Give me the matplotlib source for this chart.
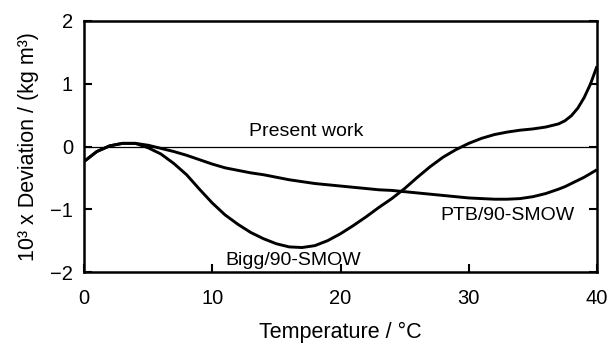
import matplotlib
matplotlib.use("Agg")
import matplotlib.pyplot as plt

temperature = [0, 1, 2, 3, 4, 5, 6, 7, 8, 9,
               10, 11, 12, 13, 14, 15, 16, 17, 18, 19,
               20, 21, 22, 23, 24, 25, 26, 27, 28, 29,
               30, 31, 32, 33, 34, 35, 36, 37, 37.5, 38, 38.5, 39, 39.5, 40]
bigg = [-0.24, -0.08, 0.01, 0.05, 0.05, -0.02, -0.12, -0.27, -0.45, -0.68,
        -0.90, -1.09, -1.24, -1.37, -1.47, -1.55, -1.60, -1.61, -1.58, -1.50,
        -1.39, -1.26, -1.12, -0.97, -0.83, -0.67, -0.49, -0.32, -0.17, -0.05,
        0.05, 0.13, 0.19, 0.23, 0.26, 0.28, 0.31, 0.36, 0.41, 0.49, 0.61, 0.78, 1.00, 1.28]
ptb = [-0.24, -0.08, 0.01, 0.05, 0.05, 0.02, -0.03, -0.08, -0.14, -0.21,
       -0.28, -0.34, -0.38, -0.42, -0.45, -0.49, -0.53, -0.56, -0.59, -0.61,
       -0.63, -0.65, -0.67, -0.69, -0.70, -0.72, -0.74, -0.76, -0.78, -0.80,
       -0.82, -0.83, -0.84, -0.84, -0.83, -0.80, -0.75, -0.68, -0.64, -0.59, -0.54, -0.49, -0.43, -0.37]
present_work = 0.0
x_ticks = [0, 10, 20, 30, 40]
y_ticks = [-2, -1, 0, 1, 2]

plt.rcParams['font.family'] = ['Liberation Sans', 'DejaVu Sans']

fig = plt.figure(figsize=(6.09, 3.47), dpi=100)
ax = fig.add_axes([84/609, 1-272/347, (597-84)/609, (272-21)/347])

for series in (bigg, ptb):
    ax.plot(temperature, series, color='black', lw=2.1,
            solid_joinstyle='round', solid_capstyle='butt')
ax.axhline(present_work, color='black', lw=0.9)

ax.set_xlim(0, 40)
ax.set_ylim(-2, 2)
ax.set_xticks(x_ticks)
ax.set_yticks(y_ticks)
ax.tick_params(axis='both', direction='in', length=6, width=1.5,
               labelsize=14.5, right=True, top=False)
ax.tick_params(axis='x', pad=12)
ax.tick_params(axis='y', pad=8)
for s in ax.spines.values():
    s.set_linewidth(1.8)

ax.set_xlabel('Temperature / °C', fontsize=15.5, labelpad=10)
ax.set_ylabel('10³ x Deviation / (kg m³)', fontsize=15.5, labelpad=8)

ax.text(17.3, 0.24, 'Present work', fontsize=14, ha='center', va='center')
ax.text(16.3, -1.81, 'Bigg/90-SMOW', fontsize=14, ha='center', va='center')
ax.text(33.0, -1.10, 'PTB/90-SMOW', fontsize=14, ha='center', va='center')

fig.savefig('out.png', dpi=100)
